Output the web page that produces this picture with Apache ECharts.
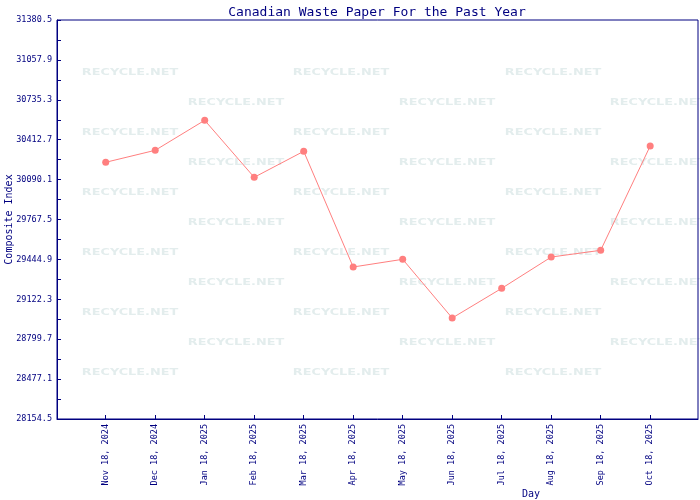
<!DOCTYPE html>
<html>
<head>
<meta charset="utf-8">
<script src="https://cdn.jsdelivr.net/npm/echarts@6/dist/echarts.min.js"></script>
<style>
html,body{margin:0;padding:0;background:#fff;}
#chart{width:700px;height:500px;}
</style>
</head>
<body>
<div id="chart"></div>
<script>
const categories = ['Nov 18, 2024','Dec 18, 2024','Jan 18, 2025','Feb 18, 2025','Mar 18, 2025','Apr 18, 2025','May 18, 2025','Jun 18, 2025','Jul 18, 2025','Aug 18, 2025','Sep 18, 2025','Oct 18, 2025'];
const values = [30230, 30327, 30569.5, 30108.7, 30318.9, 29383.5, 29445.7, 28971, 29211, 29464, 29518.5, 30361.8];
const yTicks = [28154.5, 28477.1, 28799.7, 29122.3, 29444.9, 29767.5, 30090.1, 30412.7, 30735.3, 31057.9, 31380.5];

const navy = '#000080';
const mono = 'DejaVu Sans Mono';

const yMinor = [];
for (let i = 0; i < yTicks.length; i++) {
  yMinor.push(yTicks[i]);
  if (i < yTicks.length - 1) yMinor.push((yTicks[i] + yTicks[i + 1]) / 2);
}
const xIdx = categories.map((c, i) => i);

// watermark
const wm = [];
const rowYs = [73,103,133,163,193,223,253,283,313,343,373];
rowYs.forEach((y, r) => {
  const xs = (r % 2 === 0) ? [130, 341, 553] : [236, 447, 658];
  xs.forEach(x => {
    wm.push({
      type: 'text', x: x, y: y, z: -10, silent: true, scaleX: 1.35,
      style: { text: 'RECYCLE.NET', fill: '#e3eded', font: 'bold 9.5px "DejaVu Sans"', align: 'center', verticalAlign: 'middle' }
    });
  });
});
wm.push({
  type: 'text', x: 531, y: 494, style: { text: 'Day', fill: navy, font: '10px "' + mono + '"', align: 'center', verticalAlign: 'middle' }
});

const chart = echarts.init(document.getElementById('chart'), null, {renderer: 'canvas'});
chart.setOption({
  backgroundColor: '#ffffff',
  animation: false,
  title: {
    text: 'Canadian Waste Paper For the Past Year',
    left: 372, top: 1, textAlign: 'center',
    textStyle: { color: navy, fontFamily: mono, fontSize: 13, fontWeight: 'normal' }
  },
  grid: { left: 57, right: 2, top: 20, bottom: 81, show: true, borderColor: navy, borderWidth: 1,
    backgroundColor: 'transparent', containLabel: false, outerBoundsMode: 'none' },
  graphic: wm,
  xAxis: {
    type: 'value', min: -0.984, max: 11.966,
    axisLine: { show: true, onZero: false, lineStyle: { color: navy, width: 1 } },
    axisTick: { show: true, inside: true, length: 4, customValues: xIdx, lineStyle: { color: navy } },
    axisLabel: { customValues: xIdx, rotate: 90, margin: 5, color: navy, fontFamily: mono, fontSize: 8.5,
      formatter: v => categories[Math.round(v)] || '' },
    splitLine: { show: false }
  },
  yAxis: {
    type: 'value', min: yTicks[0], max: yTicks[yTicks.length - 1],
    name: 'Composite Index', nameLocation: 'middle', nameGap: 43, nameMoveOverlap: false,
    nameTextStyle: { color: navy, fontFamily: mono, fontSize: 10 },
    axisLine: { show: true, onZero: false, lineStyle: { color: navy, width: 1 } },
    axisTick: { show: true, inside: true, length: 4, customValues: yMinor, lineStyle: { color: navy } },
    axisLabel: { customValues: yTicks, margin: 5, color: navy, fontFamily: mono, fontSize: 8.5,
      formatter: v => Number(v).toFixed(1) },
    splitLine: { show: false }
  },
  series: [{
    type: 'line',
    data: values.map((v, i) => [i, v]),
    symbol: 'circle', symbolSize: 7,
    lineStyle: { color: '#ff7f7f', width: 1 },
    itemStyle: { color: '#ff7f7f' }
  }]
});
</script>
</body>
</html>
